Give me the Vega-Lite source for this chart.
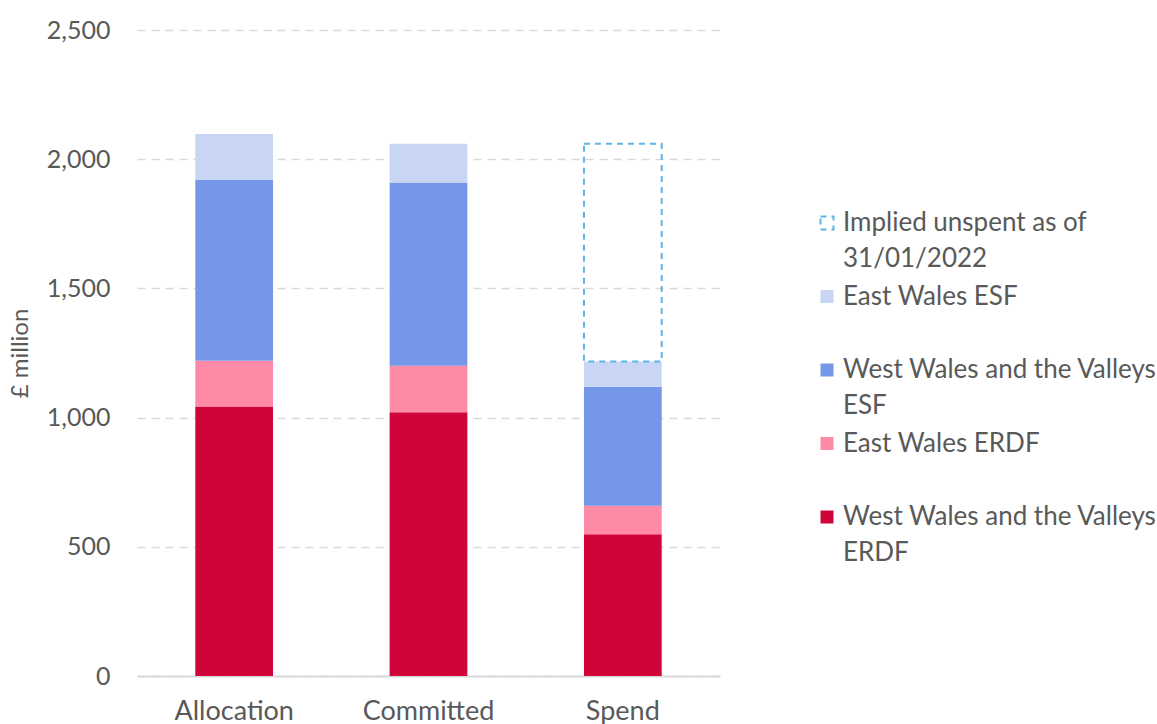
{
  "$schema": "https://vega.github.io/schema/vega-lite/v6.json",
  "width": 583,
  "height": 646,
  "autosize": {"type": "none"},
  "padding": {"left": 137, "top": 30, "right": 437, "bottom": 48},
  "background": "white",
  "config": {
    "font": "Lato",
    "view": {"stroke": null},
    "axis": {"labelFont": "Lato", "titleFont": "Lato", "labelColor": "#595959", "titleColor": "#595959"}
  },
  "data": {
    "values": [
      {"stage": "Allocation", "series": "West Wales and the Valleys ERDF", "value": 1043},
      {"stage": "Allocation", "series": "East Wales ERDF", "value": 177},
      {"stage": "Allocation", "series": "West Wales and the Valleys ESF", "value": 700},
      {"stage": "Allocation", "series": "East Wales ESF", "value": 178},
      {"stage": "Committed", "series": "West Wales and the Valleys ERDF", "value": 1021},
      {"stage": "Committed", "series": "East Wales ERDF", "value": 180},
      {"stage": "Committed", "series": "West Wales and the Valleys ESF", "value": 709},
      {"stage": "Committed", "series": "East Wales ESF", "value": 150},
      {"stage": "Spend", "series": "West Wales and the Valleys ERDF", "value": 549},
      {"stage": "Spend", "series": "East Wales ERDF", "value": 110},
      {"stage": "Spend", "series": "West Wales and the Valleys ESF", "value": 460},
      {"stage": "Spend", "series": "East Wales ESF", "value": 98},
      {"stage": "Spend", "series": "Implied unspent as of 31/01/2022", "value": 843}
    ]
  },
  "transform": [
    {"calculate": "indexof(['West Wales and the Valleys ERDF', 'East Wales ERDF', 'West Wales and the Valleys ESF', 'East Wales ESF', 'Implied unspent as of 31/01/2022'], datum.series)", "as": "stackIndex"}
  ],
  "mark": {"type": "bar", "strokeWidth": 2},
  "encoding": {
    "x": {
      "field": "stage",
      "type": "nominal",
      "sort": ["Allocation", "Committed", "Spend"],
      "scale": {"paddingInner": 0.6, "paddingOuter": 0.3},
      "axis": {
        "title": null,
        "labelAngle": 0,
        "labelFontSize": 27,
        "labelPadding": 22,
        "ticks": false,
        "domain": true,
        "domainColor": "#d9d9d9",
        "domainWidth": 2,
        "labelBaseline": "top"
      }
    },
    "y": {
      "field": "value",
      "type": "quantitative",
      "stack": "zero",
      "scale": {"domain": [0, 2500]},
      "axis": {
        "title": "£ million",
        "titleFontSize": 24,
        "titleFontWeight": "normal",
        "titlePadding": 14,
        "values": [0, 500, 1000, 1500, 2000, 2500],
        "format": ",.0f",
        "labelFontSize": 25,
        "labelPadding": 27,
        "ticks": false,
        "domain": false,
        "grid": true,
        "gridColor": "#d9d9d9",
        "gridDash": [8, 6],
        "gridWidth": 1.5
      }
    },
    "order": {"field": "stackIndex", "type": "quantitative", "sort": "ascending"},
    "fill": {
      "field": "series",
      "type": "nominal",
      "scale": {
        "domain": ["Implied unspent as of 31/01/2022", "East Wales ESF", "West Wales and the Valleys ESF", "East Wales ERDF", "West Wales and the Valleys ERDF"],
        "range": ["transparent", "#C8D5F5", "#7497E8", "#FF8AA5", "#CF0539"]
      },
      "legend": {
        "title": null,
        "orient": "none",
        "legendX": 677,
        "legendY": 180,
        "symbolType": "square",
        "symbolSize": 169,
        "symbolStrokeWidth": 2,
        "labelFont": "Lato",
        "labelFontSize": 26,
        "labelColor": "#595959",
        "labelLimit": 400,
        "labelOffset": 3,
        "rowPadding": 11.5,
        "labelBaseline": "middle",
        "labelExpr": "datum.label == 'Implied unspent as of 31/01/2022' ? ['Implied unspent as of', '31/01/2022'] : datum.label == 'West Wales and the Valleys ESF' ? ['West Wales and the Valleys', 'ESF'] : datum.label == 'West Wales and the Valleys ERDF' ? ['West Wales and the Valleys', 'ERDF'] : [datum.label, ' ']",
        "encode": {
          "labels": {"update": {"lineHeight": {"value": 36}}}
        }
      }
    },
    "stroke": {
      "field": "series",
      "type": "nominal",
      "scale": {
        "domain": ["Implied unspent as of 31/01/2022", "East Wales ESF", "West Wales and the Valleys ESF", "East Wales ERDF", "West Wales and the Valleys ERDF"],
        "range": ["#5BB5E8", "transparent", "transparent", "transparent", "transparent"]
      }
    },
    "strokeDash": {
      "field": "series",
      "type": "nominal",
      "scale": {
        "domain": ["Implied unspent as of 31/01/2022", "East Wales ESF", "West Wales and the Valleys ESF", "East Wales ERDF", "West Wales and the Valleys ERDF"],
        "range": [[6, 5], [1, 0], [1, 0], [1, 0], [1, 0]]
      }
    }
  }
}
